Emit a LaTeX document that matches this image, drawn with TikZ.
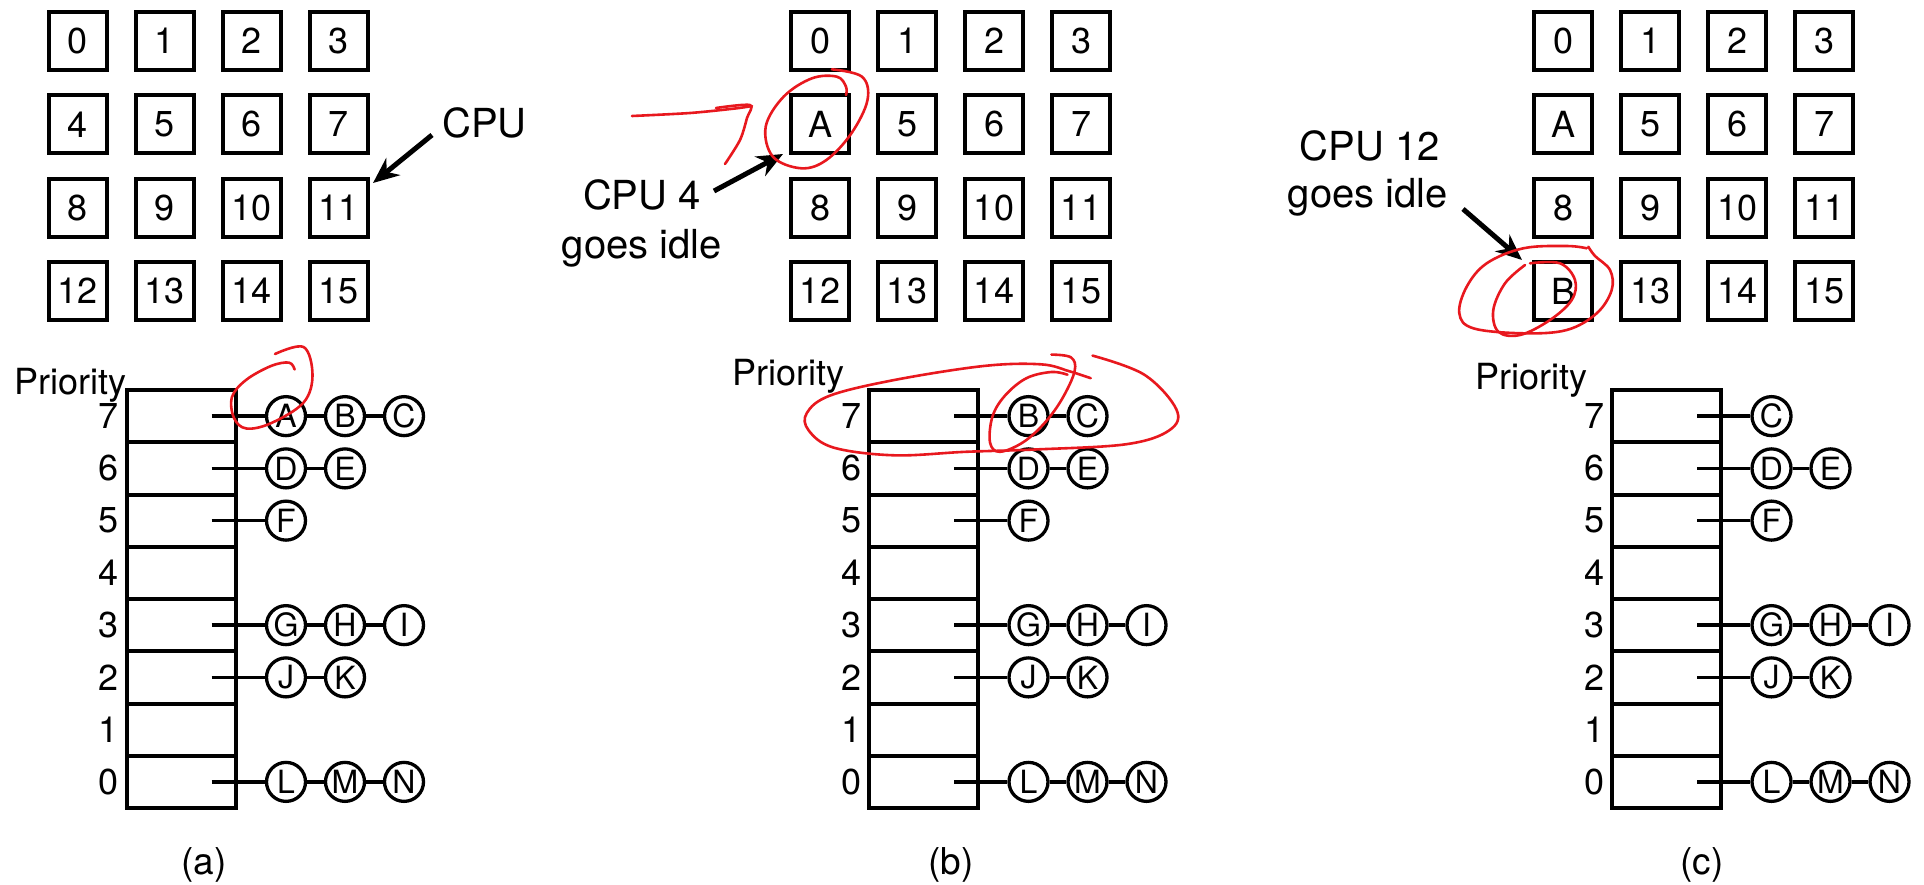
\documentclass[tikz,border=0pt]{standalone}
\usepackage{fontspec}
\setmainfont{TeX Gyre Heros}
\usetikzlibrary{arrows.meta}
\definecolor{penred}{RGB}{232,24,30}
\tikzset{
  cpu/.style={draw, line width=4pt, minimum size=58pt, inner sep=0pt, font=\fontsize{36}{40}\selectfont},
  slot/.style={draw, line width=4pt, minimum width=109pt, minimum height=52.25pt, inner sep=0pt},
  job/.style={circle, draw, line width=3.3pt, minimum size=39pt, inner sep=0pt, font=\fontsize{32}{34}\selectfont},
  link/.style={line width=3.3pt},
  prionum/.style={font=\fontsize{36}{40}\selectfont, inner sep=0pt},
  lbl/.style={font=\fontsize{40}{44}\selectfont, inner sep=0pt},
  figcap/.style={font=\fontsize{37}{40}\selectfont, inner sep=0pt},
  arr/.style={line width=5pt, -{Stealth[length=26pt,width=22pt]}},
  pen/.style={draw=penred, line width=2.6pt, line cap=round, line join=round}
}
\newcommand\myqueue[4]{%
  \pgfmathsetmacro\qy{390+52.25*(7-#3)+26.125}
  \coordinate (#1-st#3) at (#2+134,\qy);
  \foreach \L [count=\i from 0, remember=\L as \prevL (initially st#3)] in {#4} {
    \node[job] (#1-\L) at (#2+208.5+59*\i,\qy) {\L};
    \draw[link] (#1-\prevL) -- (#1-\L);
  }
}
\newcommand\mypanel[2]{% prefix, gx
  \foreach \p in {0,...,7} {
    \pgfmathsetmacro\sy{390+52.25*(7-\p)+26.125}
    \node[slot] (#1-s\p) at (#2+103.5,\sy) {};
    \node[prionum] (#1-n\p) at (#2+31,\sy) {\p};
  }
}
\begin{document}
\begin{tikzpicture}[x=1pt,y=-1pt]
\useasboundingbox (0,0) rectangle (1924,884);

% ---------- grids ----------
\foreach \r in {0,...,3} \foreach \c in {0,...,3} {
  \pgfmathtruncatemacro\n{4*\r+\c}
  \node[cpu] (a\n) at (77.5+87*\c,41+83.33*\r) {\n};
  \node[cpu] (b\n) at (820+87*\c,41+83.33*\r) {\ifnum\n=4 A\else\n\fi};
  \node[cpu] (c\n) at (1563+87*\c,41+83.33*\r) {\ifnum\n=4 A\else\ifnum\n=12 B\else\n\fi\fi};
}

% ---------- priority tables ----------
\mypanel{a}{77.5}
\mypanel{b}{820}
\mypanel{c}{1563}

\node[prionum, anchor=base west] (a-prio) at (14,394) {Priority};
\node[prionum, anchor=base west] (b-prio) at (732,385) {Priority};
\node[prionum, anchor=base west] (c-prio) at (1475,389) {Priority};

\myqueue{a}{77.5}{7}{A,B,C}
\myqueue{b}{820}{7}{B,C}
\myqueue{c}{1563}{7}{C}
\foreach \pp/\gx in {a/77.5,b/820,c/1563} {
  \myqueue{\pp}{\gx}{6}{D,E}
  \myqueue{\pp}{\gx}{5}{F}
  \myqueue{\pp}{\gx}{3}{G,H,I}
  \myqueue{\pp}{\gx}{2}{J,K}
  \myqueue{\pp}{\gx}{0}{L,M,N}
}

% ---------- captions ----------
\node[figcap] (a-cap) at (204,865) {(a)};
\node[figcap] (b-cap) at (951,865) {(b)};
\node[figcap] (c-cap) at (1702,865) {(c)};

% ---------- CPU labels and arrows ----------
\node[lbl, anchor=base west] (a-cpu) at (442,137) {CPU};
\coordinate (a-from) at (432,135);
\coordinate (a-tip) at (373,183);
\draw[arr] (a-from) -- (a-tip);

\node[lbl, anchor=base] (b-cpu1) at (642,209) {CPU 4};
\node[lbl, anchor=base] (b-cpu2) at (642,258) {goes idle};
\coordinate (b-from) at (714,191);
\coordinate (b-tip) at (783,154);
\draw[arr] (b-from) -- (b-tip);

\node[lbl, anchor=base] (c-cpu1) at (1370,160) {CPU 12};
\node[lbl, anchor=base] (c-cpu2) at (1368,207) {goes idle};
\coordinate (c-from) at (1463,209);
\coordinate (c-tip) at (1522,260);
\draw[arr] (c-from) -- (c-tip);

% ---------- red hand annotations ----------
\draw[pen] plot[smooth, tension=0.6] coordinates {(275,354) (303.6,347) (312.5,375) (303.6,402.5) (271.4,423) (246.4,428.5) (234,418) (232,397) (246,380) (271,366) (289,362.6) (294.6,369.5)};

\draw[pen] plot[smooth, tension=0.6] coordinates {(831.8,69.3) (862,76.7) (867.5,100) (851.4,133.3) (826.4,160) (801.4,168.3) (772.9,156.7) (765.7,126.7) (783.6,96.7) (812,78.3) (837,76.7) (846,86.7) (846,95)};
\draw[pen] plot[smooth, tension=0.5] coordinates {(632,116) (690,113) (735,108.5) (752,106)};
\draw[pen] plot[smooth, tension=0.5] coordinates {(716,108) (750,105) (747,118) (740,140) (725,164)};

\draw[pen] plot[smooth, tension=0.6] coordinates {(1092.5,355.6) (1144.3,374.7) (1176.4,409.4) (1169.3,430.3) (1126.4,444.2) (1037,449.4) (965.7,451.8) (894.3,455.3) (833.6,447.6) (808.6,430.3) (806.8,413) (830,395.6) (894.3,380) (983.6,366) (1040.7,364.3) (1069.3,371.25) (1090.7,378.2)};
\draw[pen] plot[smooth, tension=0.6] coordinates {(1051.4,354.6) (1071,357.4) (1074.6,371.25) (1062,399) (1044.3,423.3) (1022.9,442.4) (999.6,451.8) (990,442.4) (992.5,416.4) (1005,395.6) (1026.4,378.2) (1051.4,372) (1067.5,374.7)};

\draw[pen] plot[smooth, tension=0.6] coordinates {(1588.3,246.7) (1595,256) (1610,270) (1611.7,290) (1596.7,313.3) (1566.7,330) (1523.3,333.3) (1473.3,328.3) (1459.3,313.3) (1466.7,286.7) (1486.7,263.3) (1523.3,248.3) (1566.7,246) (1586.7,248.3)};
\draw[pen] plot[smooth, tension=0.6] coordinates {(1530,263.3) (1560,263.3) (1575,280) (1571.7,300) (1550,320) (1520,335) (1498.3,331.7) (1493.3,310) (1505,283.3) (1525,265)};
\end{tikzpicture}
\end{document}
